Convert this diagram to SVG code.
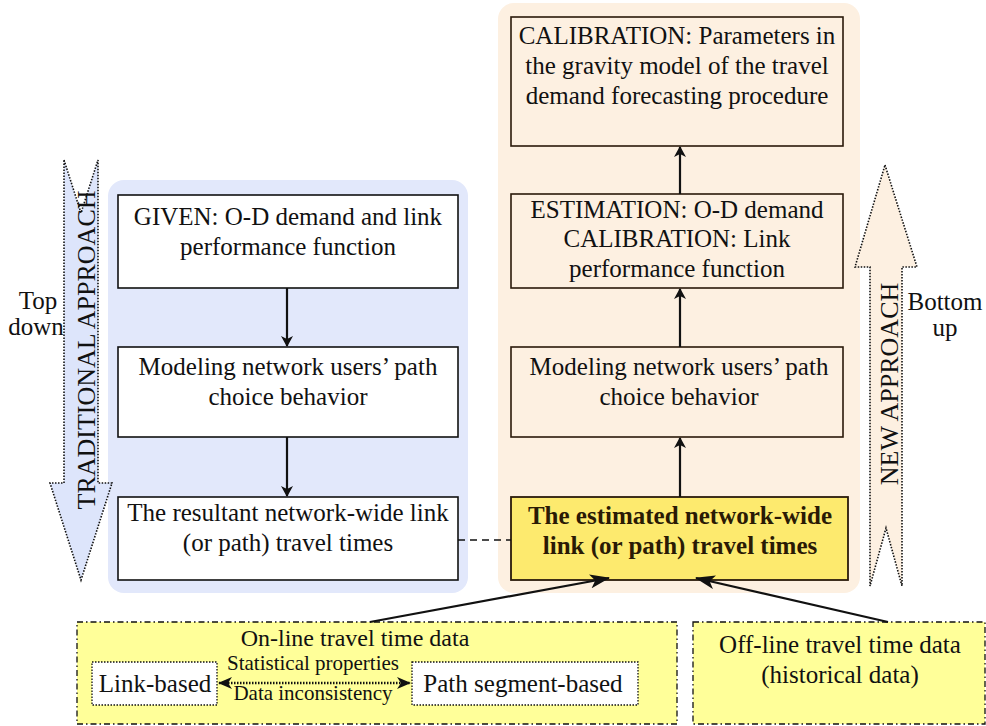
<svg xmlns="http://www.w3.org/2000/svg" width="986" height="726" viewBox="0 0 986 726">
<defs>
<style>
.t{font-size:25px;fill:#111;text-anchor:middle}
.b{font-weight:bold;fill:#2a1a05}
.s{font-size:21px}
.m{font-size:24px}
.v{font-size:26px}
.box{fill:#fff;stroke:#111;stroke-width:1.6}
.obox{fill:#fdf0e1;stroke:#2a1a0a;stroke-width:1.6}
.ybox{fill:#fdea6e;stroke:#2a1a0a;stroke-width:1.8}
.dbox{fill:#ffff99;stroke:#111;stroke-width:1.3;stroke-dasharray:6 3 1.5 3}
.ibox{fill:#fff;stroke:#111;stroke-width:1.3;stroke-dasharray:1.5 1.5}
.con{stroke:#111;stroke-width:2.2;fill:none}
.big{stroke:#111;stroke-width:1.6;stroke-dasharray:1.5 1.5}
</style>
<marker id="ah" markerWidth="11" markerHeight="12" refX="10" refY="6" orient="auto" markerUnits="userSpaceOnUse" viewBox="0 0 11 12">
<path d="M0,0 L11,6 L0,12 L3,6 Z" fill="#111"/>
</marker>
<marker id="ahs" markerWidth="14" markerHeight="12" refX="13" refY="6" orient="auto-start-reverse" markerUnits="userSpaceOnUse" viewBox="0 0 14 12">
<path d="M0,0 L14,6 L0,12 L4,6 Z" fill="#111"/>
</marker>
<marker id="ahb" markerWidth="20" markerHeight="14" refX="19" refY="7" orient="auto" markerUnits="userSpaceOnUse" viewBox="0 0 20 14">
<path d="M0,0 L20,7 L0,14 L5,7 Z" fill="#111"/>
</marker>
</defs>

<g id="panels">
<rect id="traditional-panel" x="108" y="180" width="360" height="413" rx="16" fill="#e2e8fb"/>
<rect id="new-panel" x="498" y="3" width="362" height="590" rx="16" fill="#fdf0e1"/>
</g>

<g id="big-arrows">
<g id="traditional-arrow">
<path class="big" d="M64,160 L81,213 L98,160 L98,483 L112,483 L81,580 L50,483 L64,483 Z" fill="#dde5fb"/>
<text class="t v" style="font-family:'Liberation Serif',serif" transform="translate(95,350) rotate(-90)">TRADITIONAL APPROACH</text>
</g>
<g id="new-arrow">
<path class="big" d="M885,165 L917,267 L902,267 L902,586 L886,528 L870,586 L870,267 L855,267 Z" fill="#fdf0e1"/>
<text class="t v" style="font-family:'Liberation Serif',serif" transform="translate(898,384) rotate(-90)">NEW APPROACH</text>
</g>
<text class="t" style="font-family:'Liberation Serif',serif" x="38" y="309">Top</text>
<text class="t" style="font-family:'Liberation Serif',serif" x="36" y="335">down</text>
<text class="t" style="font-family:'Liberation Serif',serif" x="945" y="310">Bottom</text>
<text class="t" style="font-family:'Liberation Serif',serif" x="945" y="336">up</text>
</g>

<g id="given">
<rect class="box" x="118" y="195" width="340" height="93"/>
<text class="t" style="font-family:'Liberation Serif',serif" x="288" y="225">GIVEN: O-D demand and link</text>
<text class="t" style="font-family:'Liberation Serif',serif" x="288" y="255">performance function</text>
</g>
<g id="modeling-left">
<rect class="box" x="118" y="347" width="340" height="90"/>
<text class="t" style="font-family:'Liberation Serif',serif" x="288" y="375">Modeling network users’ path</text>
<text class="t" style="font-family:'Liberation Serif',serif" x="288" y="405">choice behavior</text>
</g>
<g id="resultant">
<rect class="box" x="118" y="497" width="340" height="83"/>
<text class="t" style="font-family:'Liberation Serif',serif" x="288" y="521">The resultant network-wide link</text>
<text class="t" style="font-family:'Liberation Serif',serif" x="288" y="551">(or path) travel times</text>
</g>

<g id="calibration">
<rect class="obox" x="511" y="17" width="332" height="129"/>
<text class="t" style="font-family:'Liberation Serif',serif" x="677" y="44">CALIBRATION: Parameters in</text>
<text class="t" style="font-family:'Liberation Serif',serif" x="677" y="74">the gravity model of the travel</text>
<text class="t" style="font-family:'Liberation Serif',serif" x="677" y="104">demand forecasting procedure</text>
</g>
<g id="estimation">
<rect class="obox" x="511" y="194" width="332" height="94"/>
<text class="t" style="font-family:'Liberation Serif',serif" x="677" y="218">ESTIMATION: O-D demand</text>
<text class="t" style="font-family:'Liberation Serif',serif" x="677" y="247">CALIBRATION: Link</text>
<text class="t" style="font-family:'Liberation Serif',serif" x="677" y="277">performance function</text>
</g>
<g id="modeling-right">
<rect class="obox" x="511" y="347" width="332" height="90"/>
<text class="t" style="font-family:'Liberation Serif',serif" x="679" y="375">Modeling network users’ path</text>
<text class="t" style="font-family:'Liberation Serif',serif" x="679" y="405">choice behavior</text>
</g>
<g id="estimated">
<rect class="ybox" x="511" y="497" width="337" height="83"/>
<text class="t b" style="font-family:'Liberation Serif',serif" x="680" y="524">The estimated network-wide</text>
<text class="t b" style="font-family:'Liberation Serif',serif" x="680" y="554">link (or path) travel times</text>
</g>

<g id="online">
<rect class="dbox" x="77" y="622" width="600" height="102"/>
<text class="t m" style="font-family:'Liberation Serif',serif" x="355" y="646">On-line travel time data</text>
<g id="link-based">
<rect class="ibox" x="92" y="662" width="125" height="43"/>
<text class="t" style="font-family:'Liberation Serif',serif" x="155" y="692">Link-based</text>
</g>
<g id="path-segment">
<rect class="ibox" x="412" y="662" width="226" height="43"/>
<text class="t" style="font-family:'Liberation Serif',serif" x="523" y="692">Path segment-based</text>
</g>
<text class="t s" style="font-family:'Liberation Serif',serif" x="313" y="670">Statistical properties</text>
<text class="t s" style="font-family:'Liberation Serif',serif" x="313" y="700">Data inconsistency</text>
</g>
<g id="offline">
<rect class="dbox" x="693" y="622" width="292" height="102"/>
<text class="t" style="font-family:'Liberation Serif',serif" x="840" y="653">Off-line travel time data</text>
<text class="t" style="font-family:'Liberation Serif',serif" x="840" y="683">(historical data)</text>
</g>

<g id="connectors">
<line class="con" x1="287" y1="288" x2="287" y2="346" marker-end="url(#ah)"/>
<line class="con" x1="287" y1="437" x2="287" y2="496" marker-end="url(#ah)"/>
<line class="con" x1="680" y1="497" x2="680" y2="438" marker-end="url(#ah)"/>
<line class="con" x1="680" y1="347" x2="680" y2="289" marker-end="url(#ah)"/>
<line class="con" x1="680" y1="194" x2="680" y2="147" marker-end="url(#ah)"/>
<line x1="458" y1="540" x2="511" y2="540" stroke="#111" stroke-width="1.6" stroke-dasharray="7 5"/>
<line class="con" x1="370" y1="622" x2="609" y2="578" marker-end="url(#ahb)"/>
<line class="con" x1="888" y1="622" x2="696" y2="578" marker-end="url(#ahb)"/>
<line x1="219" y1="683" x2="410" y2="683" stroke="#111" stroke-width="2.5" stroke-dasharray="1.5 1.5" marker-start="url(#ahs)" marker-end="url(#ahs)"/>
</g>
</svg>
